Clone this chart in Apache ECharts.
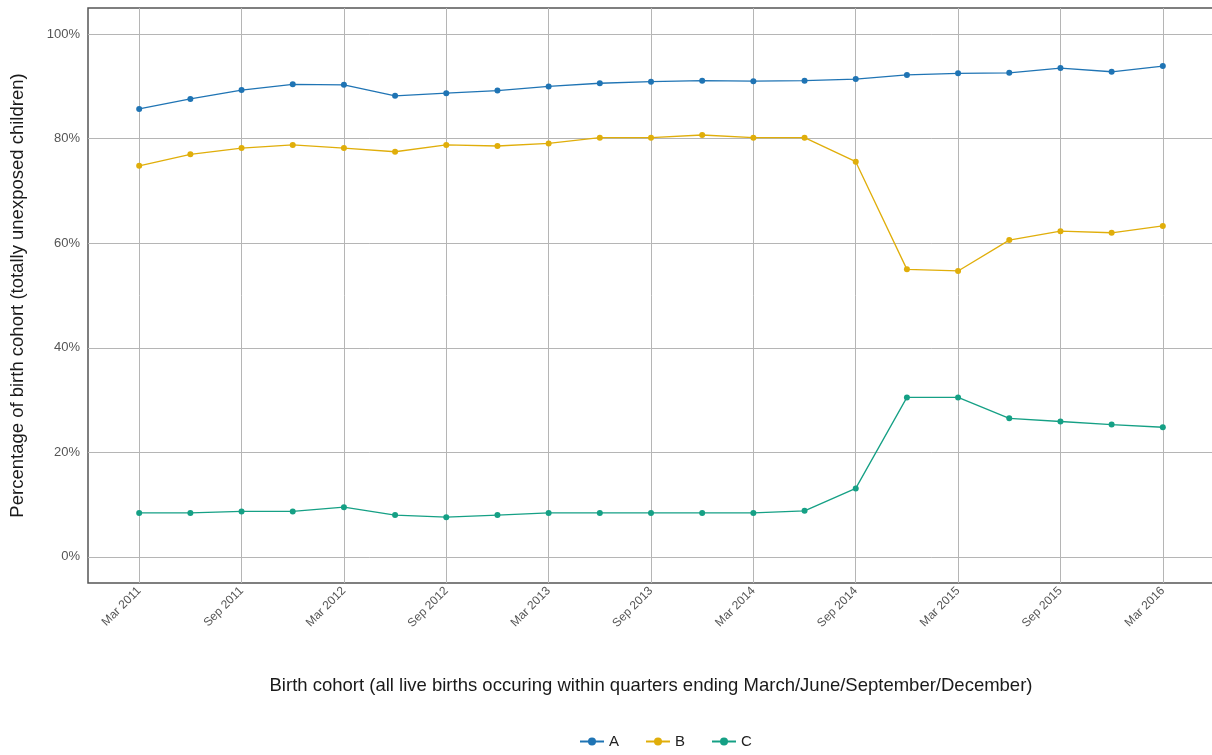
<!DOCTYPE html>
<html>
<head>
<meta charset="utf-8">
<script src="https://cdn.jsdelivr.net/npm/echarts@6/dist/echarts.min.js"></script>
<style>html,body{margin:0;padding:0;background:#fff;}#c{width:1212px;height:755px;}</style>
</head>
<body>
<div id="c"></div>
<script>
const categories = ['Mar 2011','Jun 2011','Sep 2011','Dec 2011','Mar 2012','Jun 2012','Sep 2012','Dec 2012',
  'Mar 2013','Jun 2013','Sep 2013','Dec 2013','Mar 2014','Jun 2014','Sep 2014','Dec 2014',
  'Mar 2015','Jun 2015','Sep 2015','Dec 2015','Mar 2016'];
const seriesA = [85.7,87.6,89.3,90.4,90.3,88.2,88.7,89.2,90.0,90.6,90.9,91.1,91.0,91.1,91.4,92.2,92.5,92.6,93.5,92.8,93.9];
const seriesB = [74.8,77.0,78.2,78.8,78.2,77.5,78.8,78.6,79.1,80.2,80.2,80.7,80.2,80.2,75.6,55.0,54.7,60.6,62.3,62.0,63.3];
const seriesC = [8.4,8.4,8.7,8.7,9.5,8.0,7.6,8.0,8.4,8.4,8.4,8.4,8.4,8.8,13.1,30.5,30.5,26.5,25.9,25.3,24.8];
const yTicks = [0,20,40,60,80,100];
const xLabelIdx = [0,2,4,6,8,10,12,14,16,18,20];
const seriesNames = ['A','B','C'];
const colors = ['#1f74b4','#e0ae0a','#15a085'];

const toPts = arr => arr.map((v,i)=>[i,v]);
const chart = echarts.init(document.getElementById('c'));
const font = 'Liberation Sans, Arial, sans-serif';
const mk = (name, data, color) => ({
  name, type:'line', data: toPts(data), symbol:'circle', symbolSize:6,
  itemStyle:{color}, lineStyle:{color, width:1.3}, clip:false, z:3
});
const majorGridLines = {silent:true, symbol:['none','none'], z:1, animation:false,
  label:{show:false}, emphasis:{disabled:true},
  lineStyle:{color:'#b5b5b5', type:'solid', width:1},
  data: xLabelIdx.map(i=>({xAxis:i})).concat(yTicks.map(v=>({yAxis:v})))
};
const seriesList = [mk('A',seriesA,colors[0]), mk('B',seriesB,colors[1]), mk('C',seriesC,colors[2])];
seriesList[0].markLine = majorGridLines;
chart.setOption({
  animation:false,
  textStyle:{fontFamily:font},
  grid:{left:88, top:8, right:-2, bottom:172, outerBoundsMode:'none', containLabel:false,
    show:true, borderColor:'#555', borderWidth:1.5, backgroundColor:'#fff'},
  legend:{bottom:1, left:574, itemWidth:24, itemHeight:10, itemGap:26,
    textStyle:{fontFamily:font, fontSize:15, color:'#222'}, data:seriesNames},
  xAxis:{type:'value', min:-1, max:21, interval:1,
    name:'Birth cohort (all live births occuring within quarters ending March/June/September/December)',
    nameLocation:'middle', nameGap:93, nameTextStyle:{fontFamily:font, fontSize:18.5, color:'#1a1a1a'},
    axisLine:{show:false},
    axisTick:{show:true, customValues:xLabelIdx, length:4, lineStyle:{color:'#444'}},
    axisLabel:{rotate:45, fontFamily:font, fontSize:12, color:'#555', margin:6,
      formatter: v => (xLabelIdx.includes(v) && categories[v]) ? categories[v] : ''},
    splitLine:{show:true, lineStyle:{color:'#e6e6e6', width:1}}
  },
  yAxis:{type:'value', min:-5, max:105, interval:5,
    name:'Percentage of birth cohort (totally unexposed children)',
    nameLocation:'middle', nameGap:61, nameTextStyle:{fontFamily:font, fontSize:18.5, color:'#1a1a1a'},
    axisLine:{show:false},
    axisTick:{show:true, customValues:yTicks, length:4, lineStyle:{color:'#444'}},
    axisLabel:{fontFamily:font, fontSize:13, color:'#555', margin:8,
      formatter: v => yTicks.includes(v) ? v + '%' : ''},
    splitLine:{show:true, lineStyle:{color:'#e6e6e6', width:1}}
  },
  series:seriesList
});
</script>
</body>
</html>
